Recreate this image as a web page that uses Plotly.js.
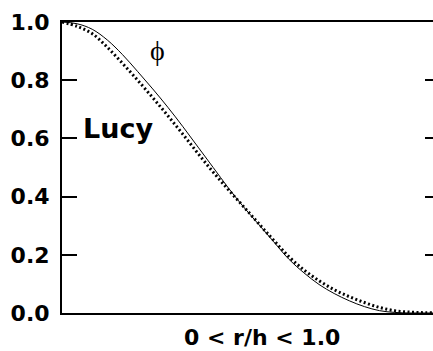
<!DOCTYPE html>
<html>
<head>
<meta charset="utf-8">
<script src="https://cdn.plot.ly/plotly-3.0.1.min.js"></script>
<style>
  html, body { margin: 0; padding: 0; background: #fff; overflow: hidden; }
  #chart { width: 448px; height: 351px; }
</style>
</head>
<body>
<div id="chart"></div>
<script>
// Kernel curves, r/h on [0, 1]
const phiR = [0, 0.04, 0.08, 0.12, 0.16, 0.20, 0.24, 0.28, 0.32, 0.36, 0.40, 0.44, 0.48, 0.52, 0.56, 0.60, 0.64, 0.68, 0.72, 0.76, 0.80, 0.84, 0.88, 0.92, 0.96, 1.0];
const phiW = [1.000, 0.994, 0.975, 0.938, 0.888, 0.830, 0.770, 0.707, 0.640, 0.570, 0.500, 0.430, 0.365, 0.305, 0.245, 0.185, 0.138, 0.098, 0.067, 0.042, 0.022, 0.008, 0.002, 0.000, 0.000, 0.000];

const lucyR = [0, 0.04, 0.08, 0.12, 0.16, 0.20, 0.24, 0.28, 0.32, 0.36, 0.40, 0.44, 0.48, 0.52, 0.56, 0.60, 0.64, 0.68, 0.72, 0.76, 0.80, 0.84, 0.88, 0.92, 0.96, 1.0];
const lucyW = [1.000, 0.985, 0.960, 0.913, 0.858, 0.800, 0.740, 0.678, 0.614, 0.548, 0.484, 0.424, 0.366, 0.308, 0.250, 0.194, 0.148, 0.111, 0.080, 0.056, 0.036, 0.019, 0.008, 0.003, 0.001, 0.000];

const yTicks = [0, 0.2, 0.4, 0.6, 0.8, 1.0];
const yTickText = ['0.0', '0.2', '0.4', '0.6', '0.8', '1.0'];

const boldFont = 'DejaVu Sans, Arial, sans-serif';

const traces = [
  {
    x: phiR, y: phiW, type: 'scatter', mode: 'lines', name: 'phi',
    line: { color: '#000', width: 1, shape: 'spline', smoothing: 1 },
  },
  {
    x: lucyR, y: lucyW, type: 'scatter', mode: 'lines', name: 'Lucy',
    line: { color: '#000', width: 3, dash: '2px,2.5px', shape: 'spline', smoothing: 1 },
  },
];

const layout = {
  width: 448,
  height: 351,
  margin: { l: 62, r: 8, t: 22, b: 38 },
  paper_bgcolor: '#fff',
  plot_bgcolor: '#fff',
  showlegend: false,
  xaxis: {
    range: [0, 1],
    showgrid: false,
    zeroline: false,
    showline: true,
    linecolor: '#000',
    linewidth: 2,
    mirror: true,
    ticks: '',
    showticklabels: false,
  },
  yaxis: {
    range: [0, 1],
    showgrid: false,
    zeroline: false,
    showline: true,
    linecolor: '#000',
    linewidth: 2,
    mirror: 'ticks',
    ticks: 'inside',
    ticklen: 15,
    tickwidth: 2,
    tickcolor: '#000',
    tickvals: yTicks,
    ticktext: yTickText,
    ticklabelstandoff: 6,
    tickfont: { family: boldFont, size: 22, color: '#000', weight: 'bold' },
  },
  annotations: [
    {
      xref: 'paper', yref: 'paper', x: (262 - 62) / 378, y: -0.085,
      xanchor: 'center', yanchor: 'middle', showarrow: false,
      text: '<b>0 &lt; r/h &lt; 1.0</b>',
      font: { family: boldFont, size: 22, color: '#000' },
    },
    {
      xref: 'paper', yref: 'paper', x: (118 - 62) / 378, y: (313 - 128) / 291,
      xanchor: 'center', yanchor: 'middle', showarrow: false,
      text: '<b>Lucy</b>',
      font: { family: boldFont, size: 27, color: '#000' },
    },
    {
      xref: 'paper', yref: 'paper', x: (157 - 62) / 378, y: (313 - 50) / 291,
      xanchor: 'center', yanchor: 'middle', showarrow: false,
      text: 'ϕ',
      font: { family: 'Liberation Serif, Times New Roman, serif', size: 28, color: '#000' },
    },
  ],
};

Plotly.newPlot('chart', traces, layout, { displayModeBar: false, staticPlot: true });
</script>
</body>
</html>
